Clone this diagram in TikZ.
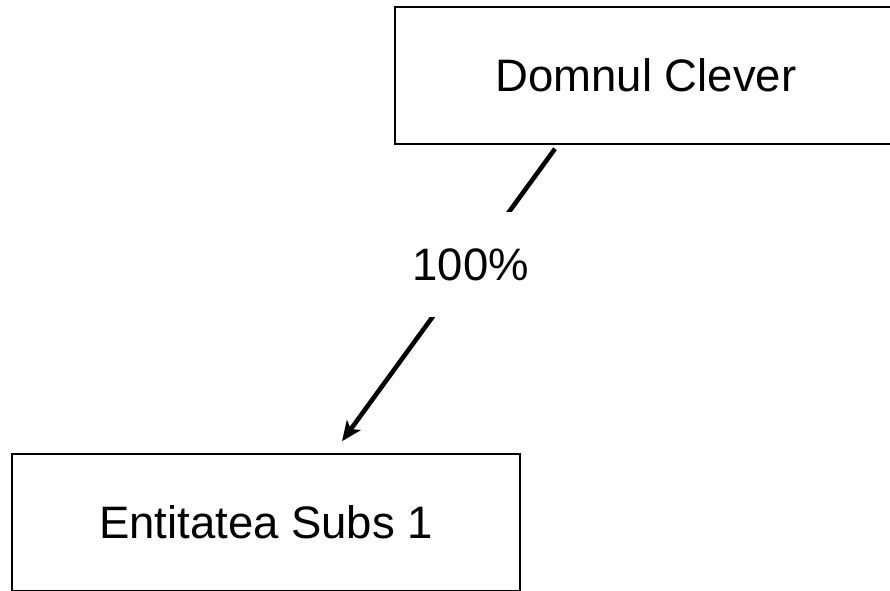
\documentclass[tikz,border=0pt]{standalone}
\usepackage{fontspec}
\setmainfont{Liberation Sans}
\usetikzlibrary{arrows.meta,calc}
\begin{document}
\begin{tikzpicture}[x=1pt,y=-1pt,
  entity/.style={draw=black,line width=1.5pt,minimum width=#1,minimum height=137pt,inner sep=0pt,
    font=\fontsize{45.5}{54}\selectfont},
  own/.style={line width=4.6pt,-{Stealth[length=20pt,width=17pt,inset=5pt]}},
  lab/.style={fill=white,inner sep=0pt,minimum height=105pt,minimum width=130pt,
    font=\fontsize{45.5}{54}\selectfont}]
\useasboundingbox (0,0) rectangle (890,590);
\clip (0,0) rectangle (890,590);
\node[entity=502pt] (clever) at (646,75.5) {Domnul Clever};
\node[entity=508pt] (subs) at (266,522.5) {Entitatea Subs 1};
\coordinate (s) at ($(clever.south)+(-91,4)$);
\coordinate (e) at ($(subs.north)+(76,-12)$);
\draw[own] (s) -- node[lab,pos=0.396] (pct) {100\%} (e);
\end{tikzpicture}
\end{document}
